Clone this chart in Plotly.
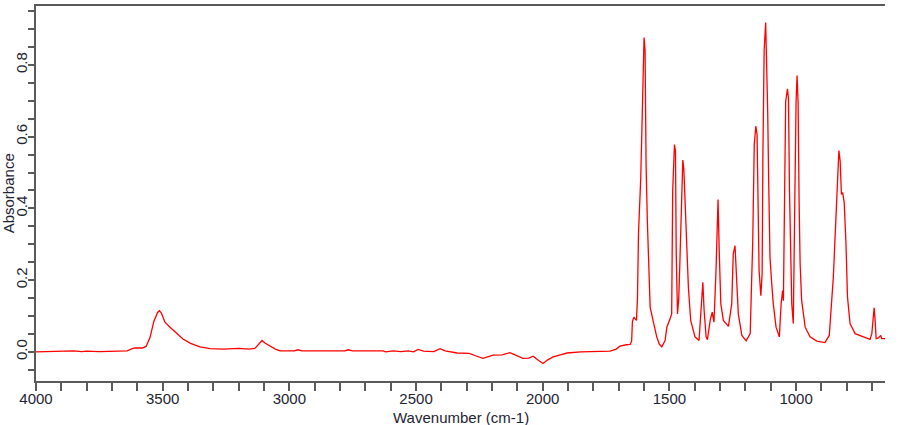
import plotly.graph_objects as go

wavenumber = [4000, 3960, 3900, 3850, 3820, 3800, 3750, 3700, 3680, 3640, 3625, 3610, 3580, 3565,
              3550, 3535, 3520, 3513, 3505, 3491, 3470, 3445, 3420, 3390, 3353, 3313, 3260, 3200,
              3160, 3136, 3120, 3108, 3095, 3076, 3055, 3037, 2980, 2966, 2950, 2780, 2768, 2750,
              2630, 2620, 2590, 2560, 2530, 2510, 2492, 2470, 2430, 2405, 2385, 2338, 2290, 2260,
              2236, 2196, 2160, 2129, 2100, 2078, 2055, 2038, 2020, 1999, 1980, 1959, 1930, 1904,
              1850, 1800, 1774, 1750, 1734, 1710, 1695, 1670, 1655, 1649, 1646, 1640, 1636, 1630,
              1626, 1622, 1613, 1605, 1600, 1596, 1592, 1587, 1581, 1576, 1563, 1550, 1540, 1530,
              1517, 1510, 1497, 1491, 1487, 1480, 1476, 1473, 1468, 1463, 1460, 1455, 1450, 1447,
              1443, 1439, 1431, 1425, 1416, 1399, 1383, 1375, 1368, 1363, 1355, 1350, 1339, 1331,
              1324, 1316, 1311, 1308, 1303, 1297, 1287, 1267, 1254, 1248, 1241, 1234, 1228, 1214,
              1197, 1181, 1171, 1165, 1159, 1154, 1151, 1146, 1139, 1134, 1131, 1126, 1120, 1116,
              1112, 1108, 1103, 1096, 1090, 1079, 1066, 1059, 1053, 1050, 1046, 1041, 1034, 1030,
              1026, 1021, 1017, 1011, 1004, 1000, 996, 992, 988, 984, 978, 964, 945, 918,
              886, 869, 853, 842, 837, 831, 826, 821, 816, 810, 803, 797, 787, 767,
              734, 708, 701, 697, 692, 688, 684, 675, 666, 662, 649]

absorbance = [0.000, 0.001, 0.003, 0.003, 0.001, 0.002, 0.001, 0.002, 0.003, 0.003, 0.008, 0.011, 0.011, 0.016,
              0.040, 0.085, 0.110, 0.115, 0.108, 0.083, 0.068, 0.052, 0.036, 0.024, 0.014, 0.009, 0.008, 0.010,
              0.008, 0.010, 0.022, 0.032, 0.024, 0.016, 0.008, 0.003, 0.003, 0.006, 0.003, 0.003, 0.006, 0.003,
              0.003, 0.000, 0.003, 0.001, 0.003, 0.000, 0.007, 0.002, 0.001, 0.009, 0.003, -0.003, -0.004, -0.012,
              -0.018, -0.009, -0.008, -0.002, -0.010, -0.018, -0.017, -0.012, -0.022, -0.032, -0.022, -0.014, -0.008, -0.003,
              0.000, 0.001, 0.002, 0.003, 0.002, 0.008, 0.016, 0.020, 0.021, 0.030, 0.085, 0.097, 0.094, 0.088,
              0.150, 0.330, 0.485, 0.790, 0.876, 0.840, 0.520, 0.365, 0.236, 0.125, 0.083, 0.042, 0.022, 0.014,
              0.032, 0.069, 0.093, 0.106, 0.449, 0.578, 0.560, 0.273, 0.106, 0.150, 0.217, 0.365, 0.500, 0.535,
              0.510, 0.430, 0.320, 0.180, 0.088, 0.042, 0.032, 0.134, 0.194, 0.116, 0.042, 0.034, 0.088, 0.111,
              0.083, 0.227, 0.374, 0.425, 0.273, 0.134, 0.088, 0.071, 0.134, 0.273, 0.296, 0.208, 0.106, 0.046,
              0.031, 0.051, 0.310, 0.578, 0.629, 0.606, 0.416, 0.227, 0.157, 0.217, 0.540, 0.840, 0.918, 0.800,
              0.670, 0.470, 0.264, 0.190, 0.134, 0.069, 0.042, 0.134, 0.171, 0.143, 0.374, 0.698, 0.733, 0.707,
              0.449, 0.273, 0.134, 0.079, 0.504, 0.698, 0.770, 0.694, 0.416, 0.245, 0.143, 0.069, 0.042, 0.030,
              0.026, 0.046, 0.208, 0.393, 0.504, 0.561, 0.532, 0.439, 0.444, 0.416, 0.301, 0.153, 0.079, 0.051,
              0.042, 0.035, 0.051, 0.093, 0.123, 0.088, 0.037, 0.039, 0.046, 0.037, 0.037]

x_tickvals = [4000, 3500, 3000, 2500, 2000, 1500, 1000]
y_tickvals = [0.0, 0.2, 0.4, 0.6, 0.8]

FONT = "Liberation Sans, Arial, sans-serif"
AXIS_COLOR = "#5a5a5a"
TEXT_COLOR = "#1e2433"

fig = go.Figure()
fig.add_trace(go.Scatter(x=wavenumber, y=absorbance, mode="lines",
                         line=dict(color="#ff0000", width=1.3), hoverinfo="skip"))

fig.update_layout(
    width=900, height=425,
    margin=dict(l=36, r=15, t=4, b=44),
    paper_bgcolor="white", plot_bgcolor="white",
    showlegend=False,
    font=dict(family=FONT, size=15, color=TEXT_COLOR),
    xaxis=dict(
        range=[4000, 649], autorange=False,
        tickmode="array", tickvals=x_tickvals, ticktext=[str(v) for v in x_tickvals],
        ticks="outside", ticklen=8, tickwidth=1.5, tickcolor=AXIS_COLOR,
        ticklabelstandoff=-5,
        minor=dict(dtick=100, tick0=0, ticks="outside", ticklen=8, tickwidth=1.5, tickcolor=AXIS_COLOR, showgrid=False),
        showline=True, linecolor=AXIS_COLOR, linewidth=2, mirror=True,
        showgrid=False, zeroline=False,
        tickfont=dict(family=FONT, size=15, color=TEXT_COLOR),
    ),
    yaxis=dict(
        range=[-0.081, 0.964], autorange=False,
        tickmode="array", tickvals=y_tickvals, ticktext=["%.1f" % v for v in y_tickvals],
        tickangle=-90,
        ticks="outside", ticklen=6, tickwidth=1.5, tickcolor=AXIS_COLOR,
        ticklabelstandoff=-5,
        minor=dict(dtick=0.05, tick0=0, ticks="outside", ticklen=6, tickwidth=1.5, tickcolor=AXIS_COLOR, showgrid=False),
        showline=True, linecolor=AXIS_COLOR, linewidth=2, mirror=False,
        showgrid=False, zeroline=False,
        tickfont=dict(family=FONT, size=15, color=TEXT_COLOR),
    ),
    annotations=[
        dict(text="Wavenumber (cm-1)", xref="paper", yref="paper", x=0.5, y=-0.097,
             xanchor="center", yanchor="middle", showarrow=False,
             font=dict(family=FONT, size=15, color=TEXT_COLOR)),
        dict(text="Absorbance", xref="paper", yref="paper", x=-0.032, y=0.5,
             xanchor="center", yanchor="middle", textangle=-90, showarrow=False,
             font=dict(family=FONT, size=15, color=TEXT_COLOR)),
    ],
)

fig.write_html("out.html")
